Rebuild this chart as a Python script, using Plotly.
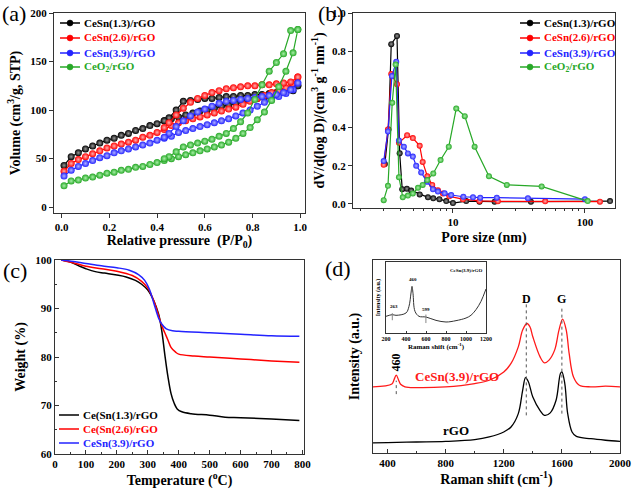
import plotly.graph_objects as go

# ---------------- (a) N2 isotherms: adsorption then desorption branch
ads_p = [0.01, 0.04, 0.07, 0.10, 0.13, 0.16, 0.19, 0.22, 0.25, 0.28, 0.31, 0.34,
         0.37, 0.40, 0.43, 0.46, 0.49, 0.52, 0.55, 0.58, 0.61, 0.64, 0.67, 0.70,
         0.73, 0.76, 0.79, 0.82, 0.85, 0.88, 0.91, 0.94, 0.97, 0.99]
des_p = [0.99, 0.96, 0.93, 0.90, 0.87, 0.84, 0.81, 0.78, 0.75, 0.72, 0.69, 0.66,
         0.63, 0.60, 0.57, 0.54, 0.51, 0.48, 0.45, 0.43]

ads_13 = [43, 52, 56, 60, 63, 66, 69, 71, 74, 76, 79, 81, 84, 86, 89, 91, 93, 95,
          97, 99, 100, 102, 104, 105, 107, 108, 110, 112, 113, 115, 116, 118, 120, 125]
des_13 = [125, 121, 119, 118, 117, 116, 116, 115, 115, 114, 114, 113, 112, 112,
          111, 110, 109, 100, 92, 89]
ads_26 = [37, 45, 49, 52, 55, 58, 61, 63, 65, 67, 69, 72, 74, 77, 80, 84, 87, 89,
          91, 93, 95, 97, 99, 101, 103, 106, 109, 112, 115, 118, 120, 123, 127, 134]
des_26 = [134, 129, 128, 127, 126, 126, 125, 125, 124, 123, 122, 120, 118, 115,
          112, 108, 102, 95, 87, 82]
ads_39 = [32, 38, 42, 45, 48, 51, 53, 56, 58, 60, 62, 64, 66, 69, 71, 73, 77, 79,
          81, 83, 85, 87, 89, 91, 94, 97, 100, 104, 108, 111, 114, 117, 121, 128]
des_39 = [128, 121, 118, 116, 115, 114, 113, 112, 111, 110, 109, 107, 104, 101,
          98, 94, 89, 83, 76, 72]
ads_ceo2 = [22, 27, 28, 30, 31, 33, 35, 36, 38, 39, 41, 42, 44, 46, 48, 50, 52, 54,
            56, 58, 60, 62, 64, 67, 71, 76, 82, 90, 98, 110, 124, 140, 159, 183]
des_ceo2 = [183, 182, 158, 149, 140, 126, 111, 97, 88, 81, 76, 73, 70, 68, 66, 64,
            62, 57, 52, 50]

# ---------------- (b) pore size distribution
psd_13_x = [3.05, 3.25, 3.41, 3.77, 3.95, 4.13, 4.48, 4.83, 5.6, 6.47, 7.1, 7.9,
            8.9, 10.0, 12.6, 15.9, 20.7, 39.0, 155.0]
psd_13_y = [0.21, 0.39, 0.837, 0.88, 0.266, 0.077, 0.08, 0.07, 0.05, 0.035, 0.03,
            0.025, 0.015, 0.005, 0.015, 0.012, 0.012, 0.012, 0.015]
psd_26_x = [2.99, 3.22, 3.41, 3.77, 3.9, 4.5, 4.97, 5.6, 5.9, 6.4, 6.97, 7.7, 8.4,
            9.4, 11.9, 15.9, 21.9, 50.0, 130.0]
psd_26_y = [0.205, 0.39, 0.68, 0.627, 0.32, 0.36, 0.345, 0.305, 0.22, 0.145, 0.1,
            0.072, 0.055, 0.04, 0.025, 0.016, 0.014, 0.014, 0.012]
psd_39_x = [2.99, 3.22, 3.45, 3.72, 3.9, 4.25, 4.56, 4.97, 5.27, 5.75, 6.35, 7.06,
            7.7, 8.65, 9.7, 12.0, 14.2, 16.1, 21.5, 37.0, 100.0]
psd_39_y = [0.225, 0.38, 0.67, 0.745, 0.332, 0.30, 0.265, 0.248, 0.2, 0.165, 0.117,
            0.077, 0.065, 0.056, 0.047, 0.038, 0.035, 0.033, 0.033, 0.03, 0.025]
psd_ceo2_x = [2.99, 3.22, 3.47, 3.68, 3.9, 4.17, 4.56, 4.97, 5.44, 5.9, 6.4, 7.1,
              8.06, 9.3, 10.6, 12.3, 14.6, 18.75, 25.6, 47.0, 105.0]
psd_ceo2_y = [0.02, 0.095, 0.53, 0.73, 0.14, 0.035, 0.044, 0.055, 0.085, 0.1, 0.125,
              0.16, 0.23, 0.3, 0.5, 0.46, 0.3, 0.145, 0.1, 0.092, 0.015]

# ---------------- (c) TGA
tga_13_t = [20, 50, 80, 100, 130, 160, 200, 230, 260, 280, 300, 320, 335, 345, 355,
            365, 375, 385, 395, 410, 440, 500, 550, 600, 700, 790]
tga_13_w = [100, 99.6, 98.7, 98.2, 97.6, 97.3, 96.9, 96.5, 95.8, 95.0, 93.8, 91.5,
            88.8, 85.5, 80.5, 76.0, 72.5, 70.5, 69.3, 68.7, 68.3, 68.0, 67.6, 67.5,
            67.2, 66.9]
tga_26_t = [20, 60, 100, 150, 200, 250, 280, 300, 320, 335, 345, 355, 365, 375, 390,
            400, 450, 500, 600, 700, 790]
tga_26_w = [100, 99.4, 98.7, 98.2, 97.7, 96.8, 95.6, 94.2, 91.5, 88.5, 86.5, 85.0,
            83.5, 82.0, 81.0, 80.6, 80.2, 80.0, 79.6, 79.2, 78.9]
tga_39_t = [20, 60, 100, 150, 200, 240, 270, 290, 305, 320, 335, 345, 360, 380, 400,
            500, 600, 700, 790]
tga_39_w = [100, 99.7, 99.3, 98.8, 98.4, 97.9, 97.0, 95.8, 94.0, 91.0, 88.0, 86.8,
            85.8, 85.4, 85.3, 85.0, 84.7, 84.4, 84.3]

# ---------------- (d) Raman (arbitrary intensity units)
rgo_shift = [300, 400, 600, 800, 1000, 1100, 1200, 1250, 1300, 1330, 1350, 1370,
             1400, 1450, 1480, 1520, 1560, 1590, 1600, 1620, 1640, 1670, 1700, 1800,
             1900, 2000]
rgo_int = [5.2, 5.4, 5.7, 6.0, 6.9, 8.3, 10.9, 13.5, 20.4, 32.5, 39.1, 36.8, 29.0,
           22.0, 19.5, 20.8, 27.3, 41.2, 42.0, 36.0, 20.4, 10.9, 8.6, 7.4, 6.6, 6.0]
cesn_shift = [300, 430, 445, 460, 475, 490, 520, 600, 800, 1000, 1100, 1200, 1250,
              1300, 1330, 1360, 1380, 1400, 1450, 1480, 1510, 1550, 1580, 1605, 1630,
              1650, 1680, 1720, 1800, 1900, 2000]
cesn_int = [34.3, 35.8, 38.0, 40.3, 38.0, 35.6, 34.3, 33.9, 34.3, 36.0, 37.7, 42.0,
            46.4, 55.0, 63.7, 67.1, 65.4, 60.2, 49.8, 46.7, 48.0, 53.3, 63.7, 69.4,
            63.7, 51.6, 39.4, 35.1, 34.3, 34.6, 34.3]
inset_shift = [200, 263, 300, 400, 430, 450, 460, 470, 490, 530, 600, 700, 800, 900,
               1000, 1050, 1100, 1150, 1200]
inset_int = [23.5, 25.8, 24.9, 28.2, 37.6, 56.3, 65.7, 56.0, 30.5, 23.5, 22.5, 17.8,
             15.5, 17.4, 21.1, 25.0, 32.9, 44.6, 62.0]
peak_marks = [460, 1355, 1600]
peak_names = ['460', 'D', 'G']

names = ['CeSn(1.3)/rGO', 'CeSn(2.6)/rGO', 'CeSn(3.9)/rGO', 'CeO<sub>2</sub>/rGO']
tga_names = ['Ce(Sn(1.3)/rGO', 'Ce(Sn(2.6)/rGO', 'CeSn(3.9)/rGO']
colors = ['#000000', '#ff0000', '#2323ff', '#27a827']
lights = ['#9a9a9a', '#ffb0b0', '#b0b0ff', '#a8f0a8']

FONT = 'Liberation Serif'
W, H = 633, 499


def px(x0, x1):
    return [x0 / W, x1 / W]


def py(top, bottom):
    return [1 - bottom / H, 1 - top / H]


fig = go.Figure()

# (a)
iso = [(ads_13, des_13), (ads_26, des_26), (ads_39, des_39), (ads_ceo2, des_ceo2)]
for i, (a, d) in enumerate(iso):
    fig.add_trace(go.Scatter(
        x=ads_p + des_p, y=a + d, mode='lines+markers', showlegend=False,
        line=dict(color=colors[i], width=1.2),
        marker=dict(size=7, color=colors[i], gradient=dict(type='radial', color=lights[i])),
        xaxis='x', yaxis='y'))

# (b)
psd = [(psd_13_x, psd_13_y), (psd_26_x, psd_26_y), (psd_39_x, psd_39_y),
       (psd_ceo2_x, psd_ceo2_y)]
for i, (x, y) in enumerate(psd):
    fig.add_trace(go.Scatter(
        x=x, y=y, mode='lines+markers', showlegend=False,
        line=dict(color=colors[i], width=1.2),
        marker=dict(size=6, color=colors[i], gradient=dict(type='radial', color=lights[i])),
        xaxis='x2', yaxis='y2'))

# (c)
tga = [(tga_13_t, tga_13_w), (tga_26_t, tga_26_w), (tga_39_t, tga_39_w)]
for i, (x, y) in enumerate(tga):
    fig.add_trace(go.Scatter(
        x=x, y=y, mode='lines', showlegend=False,
        line=dict(color=colors[i], width=1.5, shape='spline'),
        xaxis='x3', yaxis='y3'))

# (d)
fig.add_trace(go.Scatter(x=rgo_shift, y=rgo_int, mode='lines', showlegend=False,
                         line=dict(color='black', width=1.3, shape='spline'),
                         xaxis='x4', yaxis='y4'))
fig.add_trace(go.Scatter(x=cesn_shift, y=cesn_int, mode='lines', showlegend=False,
                         line=dict(color='#ff1a1a', width=1.3, shape='spline'),
                         xaxis='x4', yaxis='y4'))
fig.add_trace(go.Scatter(x=inset_shift, y=inset_int, mode='lines', showlegend=False,
                         line=dict(color='#333333', width=1, shape='spline'),
                         xaxis='x5', yaxis='y5'))

# peak guide lines in (d)
guides = [(peak_marks[0], 30.5, 37.5), (peak_marks[1], 19.5, 77), (peak_marks[2], 20.4, 76)]
for xv, y0, y1 in guides:
    fig.add_shape(type='line', x0=xv, x1=xv, y0=y0, y1=y1, xref='x4', yref='y4',
                  line=dict(color='#555555', width=1, dash='dot'))
for xv, y0, y1 in [(263, 18, 28), (599, 14, 26)]:
    fig.add_shape(type='line', x0=xv, x1=xv, y0=y0, y1=y1, xref='x5', yref='y5',
                  line=dict(color='#888888', width=1))


# hand-made legends (tighter rows than plotly's legend)
def legend_rows(labels, x_line, y_rows, markers):
    for i, lab in enumerate(labels):
        yy = 1 - y_rows[i] / H
        fig.add_shape(type='line', xref='paper', yref='paper', x0=x_line / W,
                      x1=(x_line + 20) / W, y0=yy, y1=yy,
                      line=dict(color=colors[i], width=1.5))
        if markers:
            r = 3
            cx = x_line + 10
            fig.add_shape(type='circle', xref='paper', yref='paper',
                          x0=(cx - r) / W, x1=(cx + r) / W, y0=yy - r / H, y1=yy + r / H,
                          fillcolor=colors[i], line=dict(color=colors[i], width=0.5))
        fig.add_annotation(text=lab, x=(x_line + 22) / W, y=yy, xref='paper', yref='paper',
                           xanchor='left', yanchor='middle', showarrow=False,
                           font=dict(family=FONT, size=11, color=colors[i], weight='bold'))


legend_rows(names, 60, [23, 38, 53, 67], True)
legend_rows(names, 520, [23, 38, 53, 67], True)
legend_rows(tga_names, 59, [415, 429, 443], False)

tick_font = dict(family=FONT, size=11, color='black', weight='bold')
title_font = dict(family=FONT, size=14, color='black', weight='bold')


def axis(domain, **kw):
    base = dict(domain=domain, showline=True, mirror=True, linecolor='#333333',
                linewidth=1.3, showgrid=False, zeroline=False, ticks='outside',
                ticklen=4, tickcolor='#333333', tickfont=tick_font, automargin=False)
    base.update(kw)
    return base


fig.update_layout(
    width=W, height=H, margin=dict(l=0, r=0, t=0, b=0),
    paper_bgcolor='white', plot_bgcolor='white', showlegend=False,
    xaxis=axis(px(54, 305), anchor='y', range=[-0.032, 1.02], dtick=0.2, tickformat='.1f',
               title=dict(text='Relative pressure  (P/P<sub>0</sub>)', font=title_font, standoff=2)),
    yaxis=axis(py(13, 213), anchor='x', range=[-6, 200], dtick=50,
               title=dict(text='Volume (cm<sup>3</sup>/g, STP)', font=title_font, standoff=6)),
    xaxis2=axis(px(353, 615), anchor='y2', type='log', range=[0.243, 2.228],
                tickvals=[10, 100], minor=dict(ticks='outside', ticklen=2,
                                               tickvals=[2, 3, 4, 5, 6, 7, 8, 9, 20, 30, 40, 50, 60, 70, 80, 90, 200]),
                title=dict(text='Pore size (nm)', font=title_font, standoff=4)),
    yaxis2=axis(py(13, 208), anchor='x2', range=[-0.021, 1.0], dtick=0.2, tickformat='.1f',
                title=dict(text='dV/d(log D)/(cm<sup>3</sup> g<sup>-1</sup> nm<sup>-1</sup>)',
                           font=title_font, standoff=4)),
    xaxis3=axis(px(55, 304), anchor='y3', range=[0, 805], dtick=100, ticks='inside',
                minor=dict(ticks='inside', ticklen=2, dtick=50),
                title=dict(text='Temperature (<sup>o</sup>C)', font=title_font, standoff=4)),
    yaxis3=axis(py(260, 454), anchor='x3', range=[60, 100], dtick=10, ticks='inside',
                minor=dict(ticks='inside', ticklen=2, dtick=5),
                title=dict(text='Weight (%)', font=title_font, standoff=6)),
    xaxis4=axis(px(373, 620), anchor='y4', range=[300, 2000], tickvals=[400, 800, 1200, 1600, 2000],
                ticks='inside', minor=dict(ticks='inside', ticklen=2, dtick=200),
                title=dict(text='Raman shift (cm<sup>-1</sup>)', font=title_font, standoff=4)),
    yaxis4=axis(py(260, 453), anchor='x4', range=[0, 100], ticks='', showticklabels=False,
                title=dict(text='Intensity (a.u.)', font=title_font, standoff=8)),
    xaxis5=axis(px(386, 486), anchor='y5', range=[200, 1200], dtick=200, ticks='inside',
                ticklen=2, linewidth=1,
                tickfont=dict(family=FONT, size=6, color='black', weight='bold'),
                title=dict(text='Raman shift (cm<sup>-1</sup>)',
                           font=dict(family=FONT, size=7, color='black', weight='bold'), standoff=1)),
    yaxis5=axis(py(262, 333), anchor='x5', range=[0, 100], ticks='', showticklabels=False,
                linewidth=1,
                title=dict(text='Intensity (a.u.)',
                           font=dict(family=FONT, size=6, color='black', weight='bold'), standoff=3)),
)

# panel letters
for lab, x, y in [('(a)', 14, 13), ('(b)', 331, 13), ('(c)', 15, 270), ('(d)', 338, 268)]:
    fig.add_annotation(text=lab, x=x / W, y=1 - y / H, xref='paper', yref='paper',
                       xanchor='center', yanchor='middle',
                       showarrow=False, font=dict(family=FONT, size=22, color='black'))

# Raman labels
fig.add_annotation(text=peak_names[1], x=peak_marks[1], y=80, xref='x4', yref='y4', showarrow=False,
                   font=dict(family=FONT, size=12, color='black', weight='bold'))
fig.add_annotation(text=peak_names[2], x=peak_marks[2], y=80, xref='x4', yref='y4', showarrow=False,
                   font=dict(family=FONT, size=12, color='black', weight='bold'))
fig.add_annotation(text=peak_names[0], x=peak_marks[0], y=47, xref='x4', yref='y4', showarrow=False,
                   textangle=-90, font=dict(family=FONT, size=12, color='black', weight='bold'))
fig.add_annotation(text='CeSn(3.9)/rGO', x=877, y=39.5, xref='x4', yref='y4', showarrow=False,
                   font=dict(family=FONT, size=13, color='#ff1a1a', weight='bold'))
fig.add_annotation(text='rGO', x=872, y=11.5, xref='x4', yref='y4', showarrow=False,
                   font=dict(family=FONT, size=13, color='black', weight='bold'))

# inset labels
small = dict(family=FONT, size=5, color='black', weight='bold')
for txt, x, y in [('CeSn(3.9)/rGO', 1000, 88), ('460', 470, 76), ('263', 275, 38), ('599', 602, 33)]:
    fig.add_annotation(text=txt, x=x, y=y, xref='x5', yref='y5', showarrow=False, font=small)

# drop the page's default body margin so the figure sits at the window corner
fig.write_html("out.html", config={'displayModeBar': False},
               post_script="document.body.style.margin='0px';")
